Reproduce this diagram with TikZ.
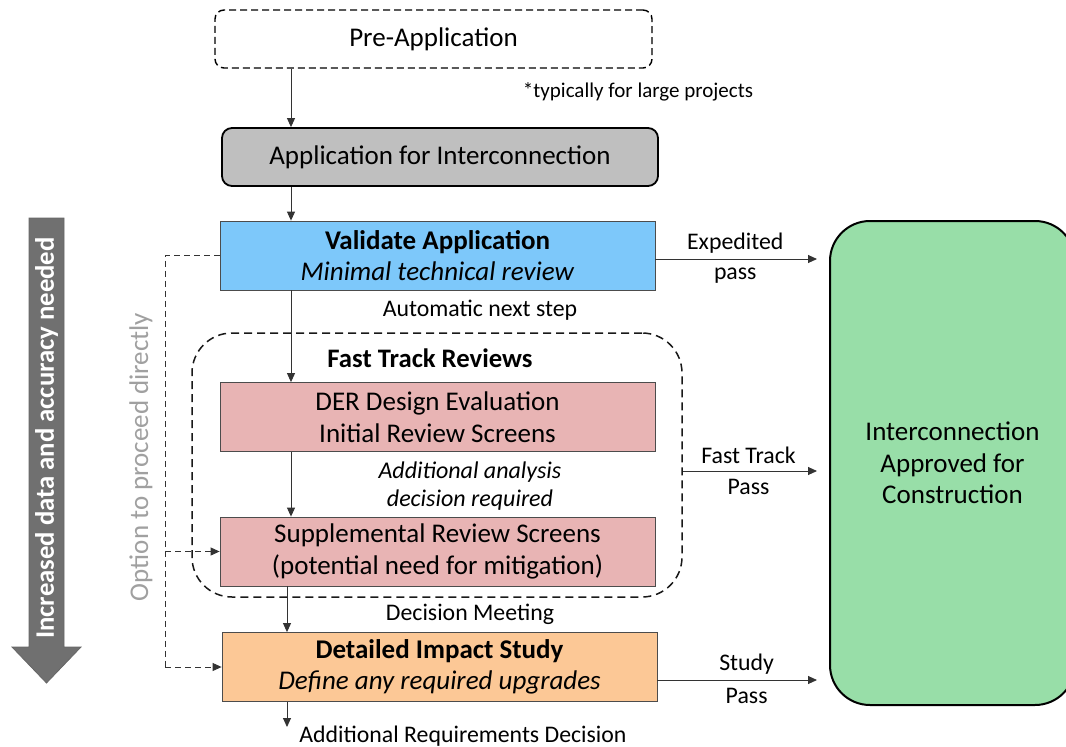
\documentclass[tikz,border=0pt]{standalone}
\usepackage{fontspec}
\setmainfont{Carlito}
\usetikzlibrary{arrows.meta}

\definecolor{valblue}{RGB}{125,200,250}
\definecolor{revpink}{RGB}{232,180,180}
\definecolor{studyorange}{RGB}{252,200,150}
\definecolor{okgreen}{RGB}{152,222,168}
\definecolor{appgray}{RGB}{191,191,191}
\definecolor{bargray}{RGB}{112,112,112}
\definecolor{optgray}{RGB}{160,160,160}

\tikzset{
  boxtxt/.style={font=\fontsize{27}{31.5}\selectfont},
  lbltxt/.style={font=\fontsize{23.8}{30}\selectfont, inner sep=1pt},
  stepbox/.style={boxtxt, draw=black!70, line width=0.8pt, align=center,
    minimum width=435pt, minimum height=69pt, inner sep=0pt},
  arr/.style={draw=black!80, line width=0.9pt, -{Triangle[length=9pt,width=8pt]}},
  dlink/.style={draw=black!80, line width=0.9pt, dash pattern=on 6pt off 4pt},
}

\begin{document}
\begin{tikzpicture}[x=1pt,y=1pt,yscale=-1]
\path[clip] (0,0) rectangle (1066,747);
\fill[white] (0,0) rectangle (1066,747);

% Boxes of the main column
\node[boxtxt, draw, dash pattern=on 7pt off 4pt, line width=1.4pt, rounded corners=9pt,
  minimum width=437pt, minimum height=58pt, text depth=3pt] (pre) at (433.5,39) {Pre-Application};
\node[boxtxt, draw, fill=appgray, line width=1.8pt, rounded corners=10pt,
  minimum width=436pt, minimum height=58pt, text depth=3pt] (app) at (440,157) {Application for Interconnection};
\node[stepbox, fill=valblue] (val) at (437.5,255.5)
  {\textbf{Validate Application}\\ \textit{Minimal technical review}};

% Fast track group
\node[draw=black!90, dash pattern=on 8pt off 5pt, line width=1.5pt, rounded corners=40pt,
  minimum width=490pt, minimum height=264pt] (ft) at (437,465) {};
\node[font=\fontsize{26.7}{30}\selectfont\bfseries] (fthead) at (430,358) {Fast Track Reviews};
\node[stepbox, fill=revpink] (der) at (437.5,417)
  {DER Design Evaluation\\ Initial Review Screens};
\node[stepbox, fill=revpink] (sup) at (437.5,551.5)
  {Supplemental Review Screens\\ (potential need for mitigation)};

\node[stepbox, fill=studyorange] (imp) at (439.5,667)
  {\textbf{Detailed Impact Study}\\ \textit{Define any required upgrades}};

% Result box
\node[boxtxt, draw, fill=okgreen, line width=2pt, rounded corners=40pt, align=center,
  minimum width=245pt, minimum height=484pt] (ok) at (952.5,463)
  {Interconnection\\ Approved for\\ Construction};

% Free labels
\node[lbltxt, font=\fontsize{21}{26}\selectfont] (note) at (638,92) {*typically for large projects};
\node[lbltxt] (auto) at (480,310) {Automatic next step};
\node[lbltxt, font=\fontsize{24}{28}\selectfont\itshape, align=center] (addl) at (470,486)
  {Additional analysis\\ decision required};
\node[lbltxt] (meet) at (470,614) {Decision Meeting};
\node[lbltxt] (req) at (463,736) {Additional Requirements Decision};

% Columns of the down arrows
\coordinate (colA) at (291,0);
\coordinate (colB) at (287,0);
\coordinate (rail) at (165,0);
\coordinate (reqend) at (287,727);

\draw[arr] (colA |- pre.south) -- (colA |- app.north);
\draw[arr] (colA |- app.south) -- (colA |- val.north);
\draw[arr] (colA |- val.south) -- (colA |- der.north);
\draw[arr] (colA |- der.south) -- (colA |- sup.north);
\draw[arr] (colB |- sup.south) -- (colB |- imp.north);
\draw[arr] (colB |- imp.south) -- (reqend);

% Pass arrows
\draw[arr, shorten >=12pt] ([yshift=3.5pt]val.east) -- ([yshift=3.5pt]val.east -| ok.west)
  node[lbltxt, pos=0.46, above=4pt] {Expedited} node[lbltxt, pos=0.46, below=7pt] {pass};
\draw[arr, shorten >=12pt] ([yshift=6pt]ft.east) -- ([yshift=6pt]ft.east -| ok.west)
  node[lbltxt, pos=0.45, above=6pt] {Fast Track} node[lbltxt, pos=0.45, below=7pt] {Pass};
\draw[arr, shorten >=12pt] ([yshift=13pt]imp.east) -- ([yshift=13pt]imp.east -| ok.west)
  node[lbltxt, pos=0.52, above=4pt] {Study} node[lbltxt, pos=0.52, below=7pt] {Pass};

% Direct option
\draw[dlink] (val.west) -- (rail |- val.west) -- (rail |- imp.west);
\draw[dlink, -{Triangle[length=9pt,width=8pt]}] (rail |- imp.west) -- (imp.west);
\draw[dlink, -{Triangle[length=9pt,width=8pt]}] (rail |- sup.west) -- (sup.west);
\node[font=\fontsize{27}{30}\selectfont, text=optgray, rotate=90] (opt) at (141,457) {Option to proceed directly};

% Big side arrow
\draw[fill=bargray, draw=black!60, line width=0.8pt]
  (29,218) -- (64,218) -- (64,647) -- (81,647) -- (46.5,683) -- (12,647) -- (29,647) -- cycle;
\node[font=\fontsize{26.7}{30}\selectfont\bfseries, text=white, rotate=90] (more) at (46.5,438)
  {Increased data and accuracy needed};

\end{tikzpicture}
\end{document}
